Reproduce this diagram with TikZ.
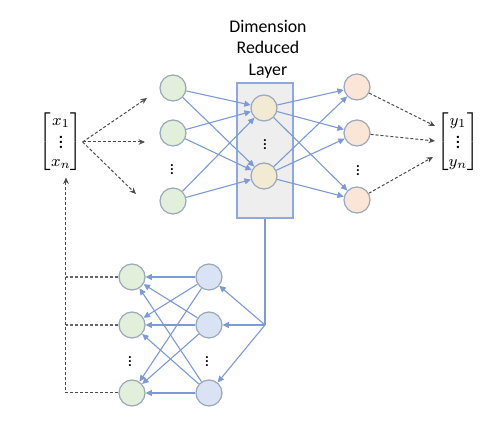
\documentclass[tikz,border=0pt]{standalone}
\usepackage{amsmath}
\usepackage{fontspec}
\setmainfont{Carlito}
\usetikzlibrary{arrows.meta,positioning}
\definecolor{nodegreen}{HTML}{E2EFDA}
\definecolor{nodetan}{HTML}{F2EAD3}
\definecolor{nodeorange}{HTML}{FBE5D6}
\definecolor{nodeblue}{HTML}{DAE3F3}
\definecolor{nodeline}{HTML}{9AA8BA}
\definecolor{edgeblue}{HTML}{7C9AD6}
\definecolor{boxgrey}{HTML}{EEEEEE}
\definecolor{boxblue}{HTML}{8EA9DB}
\newcommand{\vdotsm}[1]{\vcenter{\baselineskip=#1\lineskiplimit=0pt\hbox{\bfseries.}\hbox{\bfseries.}\hbox{\bfseries.}}}
\newcommand{\colvec}[1]{\left[\begin{matrix}#1_1\\ \vdotsm{2.4pt}\\ #1_n\end{matrix}\right]}

\begin{document}
\begin{tikzpicture}[x=0.5pt, y=-0.5pt, every node/.style={inner sep=0pt},
    neuron/.style={circle, draw=nodeline, line width=0.6pt, minimum size=13pt},
    edge/.style={-{Triangle[length=3.2pt,width=3pt]}, draw=edgeblue, line width=0.55pt},
    dasharr/.style={-{Stealth[length=3.2pt,width=2.8pt]}, dash pattern=on 1.5pt off 1pt, draw=black!70, line width=0.5pt},
    dashline/.style={dash pattern=on 1.5pt off 1pt, draw=black!60, line width=0.6pt},
    vdot/.style={font=\fontsize{7}{8}\selectfont},
    vecnode/.style={font=\fontsize{8}{9.6}\selectfont}]
\useasboundingbox (0,0) rectangle (489,426);
% reduced layer box and title
\node[draw=boxblue, fill=boxgrey, line width=0.6pt, minimum width=28pt, minimum height=67.5pt] (dimbox) at (265,150.5) {};
\node[align=center, font=\fontsize{8.9}{10.75}\selectfont] (title) at (268,49) {Dimension\\Reduced\\Layer};
% encoder
\foreach \n/\y in {1/88,2/133,3/201} {
  \node[neuron, fill=nodegreen] (in\n) at (173,\y) {};
}
\foreach \n/\y in {1/108,2/176} {
  \node[neuron, fill=nodetan] (mid\n) at (264,\y) {};
}
\foreach \n/\y in {1/87,2/133,3/200} {
  \node[neuron, fill=nodeorange] (out\n) at (357,\y) {};
}
\node[vdot] (dotin) at (172,170) {$\vdotsm{2pt}$};
\node[vdot] (dotmid) at (265,145) {$\vdotsm{2pt}$};
\node[vdot] (dotout) at (358,171) {$\vdotsm{2pt}$};
% decoder
\foreach \n/\y in {1/277,2/325,3/393} {
  \node[neuron, fill=nodeblue] (dec\n) at (209,\y) {};
  \node[neuron, fill=nodegreen] (rec\n) at (132,\y) {};
}
\node[vdot] (dotdec) at (207,362) {$\vdotsm{2pt}$};
\node[vdot] (dotrec) at (130,362) {$\vdotsm{2pt}$};
% vectors
\node[vecnode] (xvec) at (61,142) {\def\arraystretch{1.08}$\colvec{x}$};
\node[vecnode] (yvec) at (458,142) {\def\arraystretch{1.08}$\colvec{y}$};
\coordinate (a1) at (147,98);
\coordinate (a2) at (145,142);
\coordinate (a3) at (136,194);
\coordinate (b1) at (435,126);
\coordinate (b2) at (435,141);
\coordinate (b3) at (433,157);
\coordinate (hub) at (265,325);
\coordinate (fb1) at (66,277);
\coordinate (fb2) at (66,325);
\coordinate (fb3) at (66,393);
% connections
\foreach \i in {1,2,3} {
  \foreach \j in {1,2} {
    \draw[edge] (in\i) -- (mid\j);
    \draw[edge] (mid\j) -- (out\i);
  }
  \foreach \j in {1,2,3} {
    \draw[edge] (dec\i) -- (rec\j);
  }
  \draw[edge] (hub) -- (dec\i);
  \draw[dasharr] (xvec.east) -- (a\i);
  \draw[dasharr] (out\i) -- (b\i);
}
\draw[draw=edgeblue, line width=0.55pt] (dimbox.south) -- (hub);
\draw[dashline] (rec1.west) -- (fb1);
\draw[dashline] (rec2.west) -- (fb2);
\draw[dasharr, shorten >=2pt] (rec3.west) -- (fb3) -- (fb3 |- xvec.south);
\end{tikzpicture}
\end{document}
